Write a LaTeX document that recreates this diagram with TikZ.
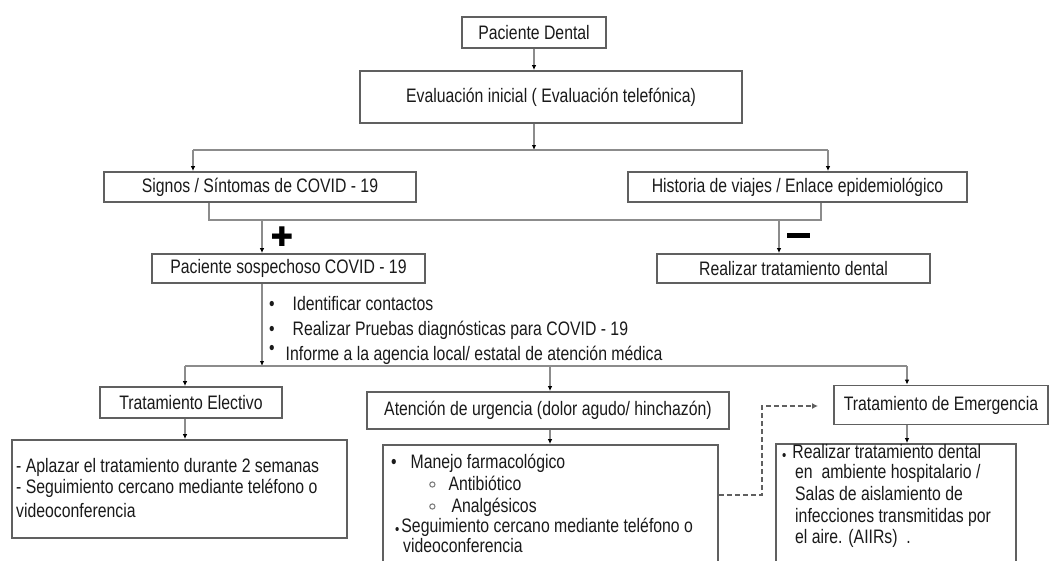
\documentclass[tikz,border=0pt]{standalone}
\usepackage{fontspec}
\setmainfont{Liberation Sans}[FakeStretch=0.81]
\newfontfamily\symfont{DejaVu Sans}
\usetikzlibrary{arrows.meta}
\definecolor{boxc}{HTML}{606060}
\definecolor{linec}{HTML}{8C8C8C}
\definecolor{txt}{HTML}{1A1A1A}
\newcommand\fsz{\fontsize{19.5}{22}\selectfont}
\newcommand\subbul{\tikz[x=1pt,y=1pt,baseline=0pt]{\draw[gray,line width=1.1pt] (0,5.5) circle (2.6pt);}}
\tikzset{
  box/.style={draw=boxc, line width=1.8pt, inner sep=0pt, text=txt, font=\fsz},
  conn/.style={draw=linec, line width=1.5pt},
  arr/.style={conn, -{Latex[length=5pt,width=4.5pt,black]}},
  dasharr/.style={draw=boxc, line width=1.6pt, dash pattern=on 5pt off 3pt, -{Latex[length=6pt,width=6pt]}},
  lbl/.style={inner sep=0pt, anchor=base west, text=txt, font=\fsz},
}
\begin{document}
\begin{tikzpicture}[x=1pt,y=-1pt]
\useasboundingbox (0,0) rectangle (1051,560);
\clip (0,0) rectangle (1051,560);
\fill[white] (0,0) rectangle (1051,560);

% boxes
\node[box, minimum width=144, minimum height=31] (pd) at (534,32.5) {Paciente Dental};
\node[box, minimum width=382, minimum height=52] (ev) at (551,97) {Evaluación inicial ( Evaluación telefónica)};
\node[box, minimum width=312, minimum height=30] (sg) at (260,187) {Signos / Síntomas de COVID - 19};
\node[box, minimum width=339, minimum height=30] (hv) at (797.5,187) {Historia de viajes / Enlace epidemiológico};
\node[box, minimum width=273, minimum height=29] (ps) at (288.5,268.5) {Paciente sospechoso COVID - 19};
\node[box, minimum width=273, minimum height=29] (rt) at (793.5,268.5) {Realizar tratamiento dental};
\node[box, minimum width=182, minimum height=31] (te) at (191,402.5) {Tratamiento Electivo};
\node[box, minimum width=362, minimum height=37] (au) at (548,410.5) {Atención de urgencia (dolor agudo/ hinchazón)};
\node[box, minimum width=214, minimum height=39] (em) at (941,405) {Tratamiento de Emergencia};
\node[box, minimum width=335, minimum height=98] (lb) at (179.5,489) {};
\node[box, minimum width=335, minimum height=135] (mb) at (550.5,512.5) {};
\node[box, minimum width=240, minimum height=136] (rb) at (896,512) {};

% junction coordinates
\coordinate (j1) at (534,150);
\coordinate (a1) at (193,150);
\coordinate (a2) at (828,150);
\coordinate (b1) at (209,220);
\coordinate (b2) at (821,220);
\coordinate (b3) at (262,220);
\coordinate (b4) at (779,220);
\coordinate (c0) at (262,366);
\coordinate (c1) at (185,366);
\coordinate (c2) at (907,366);
\coordinate (c3) at (550,366);
\coordinate (d1) at (762,495);
\coordinate (d2) at (818,406);

% connectors
\draw[arr] (pd.south) -- (pd.south |- ev.north);
\draw[arr] (j1 |- ev.south) -- (j1);
\draw[conn] (a1) -- (a2);
\draw[arr] (a1) -- (a1 |- sg.north);
\draw[arr] (a2) -- (a2 |- hv.north);
\draw[conn] (b1 |- sg.south) -- (b1) -- (b2) -- (b2 |- hv.south);
\draw[arr] (b3) -- (b3 |- ps.north);
\draw[arr] (b4) -- (b4 |- rt.north);
\draw[arr] (c0 |- ps.south) -- (c0);
\draw[conn] (c1) -- (c2);
\draw[arr] (c1) -- (c1 |- te.north);
\draw[arr] (c3) -- (c3 |- au.north);
\draw[arr] (c2) -- (c2 |- em.north);
\draw[arr] (c1 |- te.south) -- (c1 |- lb.north);
\draw[arr] (c3 |- au.south) -- (c3 |- mb.north);
\draw[arr] (c2 |- em.south) -- (c2 |- rb.north);
\draw[dasharr] (mb.east |- d1) -- (d1) |- (d2);

% plus / minus
\node[inner sep=0pt, font=\symfont\fontsize{27}{27}\selectfont] (plus) at (282,237) {✚};
\node[inner sep=0pt, fill=black, minimum width=23, minimum height=5] (minus) at (798,235.5) {};

% bullet list under Paciente sospechoso
\node[lbl] (l1) at (269,310) {•\hspace{18pt}Identificar contactos};
\node[lbl] (l2) at (269,335) {•\hspace{18pt}Realizar Pruebas diagnósticas para COVID - 19};
\node[lbl] (l3) at (269,360) {\raisebox{6pt}{•}\hspace{11pt}Informe a la agencia local/ estatal de atención médica};

% left box text
\node[lbl] (e1) at (16,472) {- Aplazar el tratamiento durante 2 semanas};
\node[lbl] (e2) at (16,493) {- Seguimiento cercano mediante teléfono o};
\node[lbl] (e3) at (16,517) {videoconferencia};

% middle box text
\node[lbl] (m1) at (391,468) {•\hspace{14pt}Manejo farmacológico};
\node[lbl] (m2) at (429,490) {\subbul\hspace{13pt}Antibiótico};
\node[lbl] (m3) at (429,512) {\subbul\hspace{16pt}Analgésicos};
\node[lbl] (m4) at (395,532) {\raisebox{-2pt}{\fontsize{15}{15}\selectfont•}\hspace{2pt}Seguimiento cercano mediante teléfono o};
\node[lbl] (m5) at (403,552) {videoconferencia};

% right box text
\node[lbl] (r1) at (782,458) {\raisebox{-2pt}{\fontsize{15}{15}\selectfont•}\hspace{6pt}Realizar tratamiento dental};
\node[lbl] (r2) at (795,478) {en\ \ ambiente hospitalario /};
\node[lbl] (r3) at (795,500) {Salas de aislamiento de};
\node[lbl] (r4) at (795,522) {infecciones transmitidas por};
\node[lbl] (r5) at (795,543) {el aire. (AIIRs)\ \ .};
\end{tikzpicture}
\end{document}
